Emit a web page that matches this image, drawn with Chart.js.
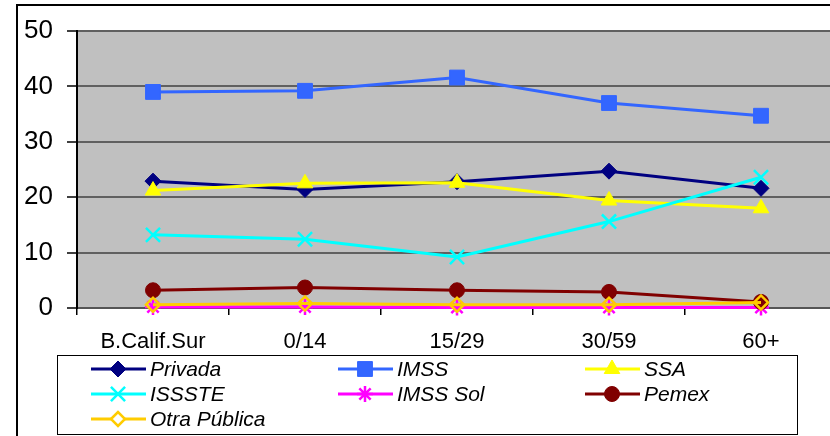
<!DOCTYPE html>
<html>
<head>
<meta charset="utf-8">
<script src="https://cdn.jsdelivr.net/npm/chart.js@4/dist/chart.umd.min.js"></script>
<style>
  html, body { margin: 0; padding: 0; background: #fff; overflow: hidden; }
  #wrap { width: 830px; height: 436px; overflow: hidden; }
</style>
</head>
<body>
<div id="wrap"><canvas id="myChart" width="850" height="436"></canvas></div>
<script>
// age groups along the x axis
var grupos = ['B.Calif.Sur', '0/14', '15/29', '30/59', '60+'];

// percentage of each institution per group
var privada    = [22.9, 21.4, 22.8, 24.7, 21.6];
var imss       = [39.0, 39.2, 41.6, 37.0, 34.7];
var ssa        = [21.2, 22.5, 22.6, 19.4, 18.0];
var issste     = [13.2, 12.4, 9.2, 15.6, 23.6];
var imssSol    = [0.2, 0.2, 0.1, 0.1, 0.1];
var pemex      = [3.2, 3.7, 3.2, 2.9, 1.1];
var otraPublica = [0.6, 0.8, 0.6, 0.6, 1.0];

var yTicks = [0, 10, 20, 30, 40, 50];

// one entry per series: label, data, colour, marker
var series = [
  { label: 'Privada', data: privada, color: '#000080', style: 'rectRot', radius: 8, fill: '#000080' },
  { label: 'IMSS', data: imss, color: '#3366FF', style: 'rect', radius: 10.5, fill: '#3366FF' },
  { label: 'SSA', data: ssa, color: '#FFFF00', style: 'triangle', radius: 9, fill: '#FFFF00' },
  { label: 'ISSSTE', data: issste, color: '#00FFFF', style: 'crossRot', radius: 10, fill: '#00FFFF' },
  { label: 'IMSS Sol', data: imssSol, color: '#FF00FF', style: 'star', radius: 8, fill: '#FF00FF' },
  { label: 'Pemex', data: pemex, color: '#800000', style: 'circle', radius: 7.5, fill: '#800000' },
  { label: 'Otra Pública', data: otraPublica, color: '#FFCC00', style: 'rectRot', radius: 7, fill: 'rgba(0,0,0,0)' }
];

Chart.defaults.font.family = '"Liberation Sans", Arial, sans-serif';
Chart.defaults.color = '#000';

var datasets = series.map(function (s, i) {
  return {
    label: s.label,
    data: s.data,
    borderColor: s.color,
    backgroundColor: s.fill,
    borderWidth: 3,
    pointStyle: s.style,
    pointRadius: s.radius,
    pointHoverRadius: s.radius,
    pointBackgroundColor: s.fill,
    pointBorderColor: s.color,
    pointBorderWidth: s.style === 'crossRot' || s.style === 'star' || s.label === 'Otra Pública' ? 2.5 : 1,
    tension: 0,
    clip: false,
    order: series.length - i   // later series on top
  };
});

// grey plot background and the outer frame
var background = {
  id: 'background',
  beforeDraw: function (chart) {
    var ctx = chart.ctx, a = chart.chartArea;
    ctx.save();
    ctx.fillStyle = '#C0C0C0';
    ctx.fillRect(a.left, a.top, a.right - a.left, a.bottom - a.top);
    ctx.strokeStyle = '#000';
    ctx.lineWidth = 2;
    ctx.beginPath();
    ctx.moveTo(17, 440);
    ctx.lineTo(17, 5);
    ctx.lineTo(chart.width + 5, 5);
    ctx.stroke();
    ctx.restore();
  }
};

// boxed legend with line + marker samples in three columns
var boxLegend = {
  id: 'boxLegend',
  afterDraw: function (chart) {
    var ctx = chart.ctx;
    ctx.save();
    ctx.fillStyle = '#fff';
    ctx.fillRect(57, 355, 740, 80);
    ctx.strokeStyle = '#000';
    ctx.lineWidth = 1;
    ctx.strokeRect(57.5, 355.5, 740, 79);
    ctx.font = 'italic 21px "Liberation Sans", Arial, sans-serif';
    ctx.textBaseline = 'middle';
    ctx.textAlign = 'left';
    series.forEach(function (s, i) {
      var x = 91 + (i % 3) * 247;
      var y = 369 + Math.floor(i / 3) * 25;
      ctx.strokeStyle = s.color;
      ctx.lineWidth = 3;
      ctx.beginPath();
      ctx.moveTo(x, y);
      ctx.lineTo(x + 55, y);
      ctx.stroke();
      ctx.fillStyle = s.label === 'Otra Pública' ? '#fff' : s.fill;
      ctx.lineWidth = datasets[i].pointBorderWidth;
      Chart.helpers.drawPoint(ctx, {
        pointStyle: s.style,
        radius: s.radius,
        rotation: 0,
        borderWidth: datasets[i].pointBorderWidth
      }, x + 27, y);
      ctx.fillStyle = '#000';
      ctx.fillText(s.label, x + 59, y + 1);
    });
    ctx.restore();
  }
};

var ctx = document.getElementById('myChart').getContext('2d');
var chart = new Chart(ctx, {
  type: 'line',
  data: { labels: grupos, datasets: datasets },
  plugins: [background, boxLegend],
  options: {
    responsive: false,
    animation: false,
    events: [],
    layout: { padding: { left: 17, top: 31, right: 13, bottom: 83 } },
    plugins: { legend: { display: false }, tooltip: { enabled: false } },
    scales: {
      x: {
        type: 'category',
        offset: true,
        afterFit: function (scale) { scale.height = 45; },
        grid: { offset: true, drawOnChartArea: false, drawTicks: true, tickLength: 7, color: '#000', lineWidth: 1.5 },
        border: { display: true, color: '#555', width: 2 },
        ticks: { font: { size: 22 }, padding: 14, maxRotation: 0, autoSkip: false }
      },
      y: {
        min: 0,
        max: 50,
        afterFit: function (scale) { scale.width = 60; },
        afterBuildTicks: function (scale) {
          scale.ticks = yTicks.map(function (v) { return { value: v }; });
        },
        grid: { color: '#606060', lineWidth: 2, tickLength: 10, tickColor: '#000', tickWidth: 1.5 },
        border: { display: true, color: '#000', width: 2 },
        ticks: { font: { size: 26 }, padding: 14 }
      }
    }
  }
});
</script>
</body>
</html>
